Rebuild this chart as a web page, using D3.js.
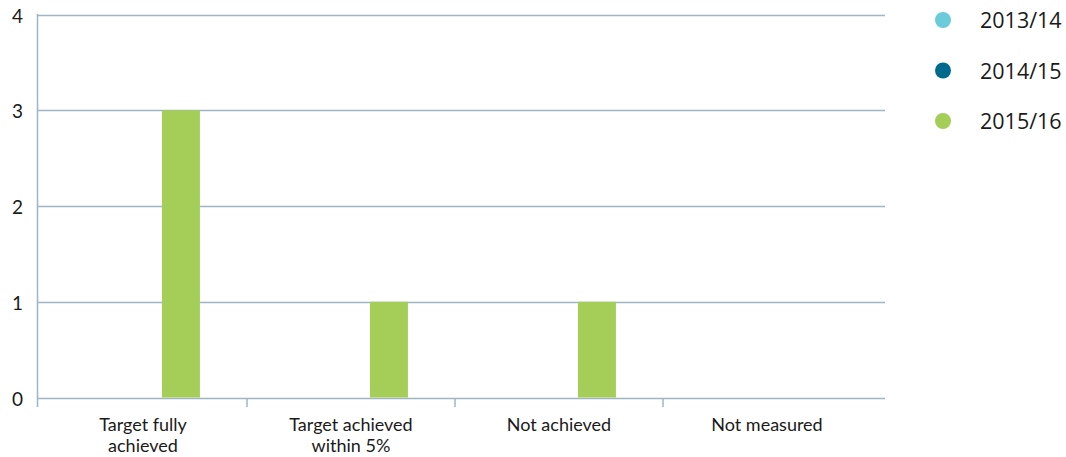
<!DOCTYPE html>
<html>
<head>
<meta charset="utf-8">
<script src="https://cdn.jsdelivr.net/npm/d3@7"></script>
<style>
  body { margin: 0; background: #fff; }
  text { font-family: Lato, "Open Sans", sans-serif; fill: #1a1a1a; }
</style>
</head>
<body>
<script>
var categories = [["Target fully", "achieved"], ["Target achieved", "within 5%"], ["Not achieved"], ["Not measured"]];
var seriesNames = ["2013/14", "2014/15", "2015/16"];
var seriesColors = ["#6bcbdb", "#006a8e", "#a4ce57"];
var values2013 = [0, 0, 0, 0];
var values2014 = [0, 0, 0, 0];
var values2015 = [3, 1, 1, 0];
var yTicks = [0, 1, 2, 3, 4];

var series = [values2013, values2014, values2015];

var svg = d3.select('body').append('svg')
  .attr('width', 1066)
  .attr('height', 457);

var gridColor = "#9fb4c4";

var y = d3.scaleLinear().domain([0, 4]).range([397.5, 14.5]);

var x0 = d3.scaleBand()
  .domain(d3.range(categories.length))
  .range([39, 871]);

var x1 = d3.scaleBand()
  .domain(d3.range(seriesNames.length))
  .range([0, x0.bandwidth()])
  .paddingOuter(1.24);

// gridlines
svg.append("g")
  .selectAll("line")
  .data(yTicks)
  .enter().append("line")
    .attr("x1", 37.5)
    .attr("x2", 885)
    .attr("y1", function(d) { return Math.round(y(d)) + 0.5; })
    .attr("y2", function(d) { return Math.round(y(d)) + 0.5; })
    .style("stroke", gridColor)
    .style("stroke-width", 1.5);

// y labels
svg.append("g")
  .selectAll("text")
  .data(yTicks)
  .enter().append("text")
    .attr("x", 23)
    .attr("y", function(d) { return y(d) + 8; })
    .attr("text-anchor", "end")
    .style("font-size", "19px")
    .text(function(d) { return d; });

// bars
var groups = svg.append("g")
  .selectAll("g")
  .data(series)
  .enter().append("g")
    .style("fill", function(d, i) { return seriesColors[i]; });

groups.each(function(vals, si) {
  d3.select(this).selectAll("rect")
    .data(vals)
    .enter().append("rect")
      .attr("x", function(d, ci) { return x0(ci) + x1(si); })
      .attr("width", x1.bandwidth())
      .attr("y", function(d) { return y(d); })
      .attr("height", function(d) { return y(0) - y(d); });
});

// axes lines
svg.append("line")
  .attr("x1", 37.5).attr("x2", 37.5)
  .attr("y1", 14).attr("y2", 407)
  .style("stroke", gridColor).style("stroke-width", 1.5);

svg.append("g")
  .selectAll("line")
  .data(d3.range(1, categories.length))
  .enter().append("line")
    .attr("x1", function(d) { return x0(d); })
    .attr("x2", function(d) { return x0(d); })
    .attr("y1", 398)
    .attr("y2", 407)
    .style("stroke", gridColor)
    .style("stroke-width", 1.5);

// category labels
var catLabels = svg.append("g")
  .selectAll("text")
  .data(categories)
  .enter().append("text")
    .attr("text-anchor", "middle")
    .attr("x", function(d, i) { return x0(i) + x0.bandwidth() / 2; })
    .attr("y", 431)
    .style("font-size", "18px");

catLabels.each(function(lines) {
  var t = d3.select(this);
  var cx = t.attr("x");
  lines.forEach(function(l, k) {
    t.append("tspan").attr("x", cx).attr("dy", k === 0 ? 0 : 21).text(l);
  });
});

// legend
var legend = svg.append("g")
  .selectAll("g")
  .data(seriesNames)
  .enter().append("g")
    .attr("transform", function(d, i) { return "translate(943," + (20 + i * 50.5) + ")"; });

legend.append("circle")
  .attr("r", 8)
  .style("fill", function(d, i) { return seriesColors[i]; });

legend.append("text")
  .attr("x", 37)
  .attr("y", 8)
  .style("font-family", "'Open Sans', sans-serif")
  .style("font-size", "21.5px")
  .text(function(d) { return d; });
</script>
</body>
</html>
